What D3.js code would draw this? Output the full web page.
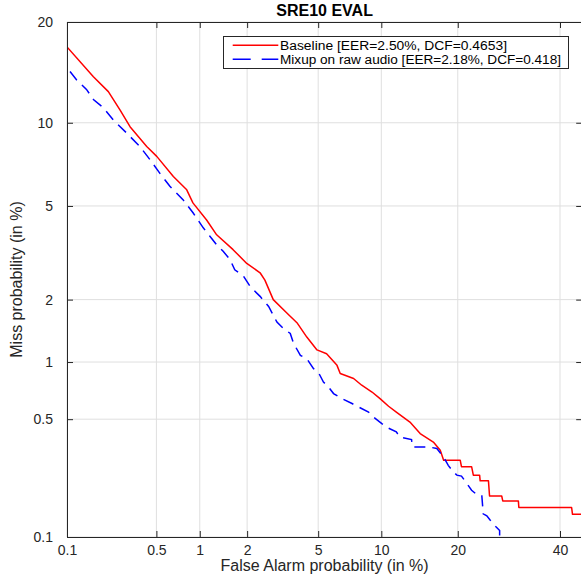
<!DOCTYPE html>
<html>
<head>
<meta charset="utf-8">
<script src="https://cdn.jsdelivr.net/npm/d3@7"></script>
<style>
  html, body { margin: 0; padding: 0; background: #fff; }
  svg { display: block; }
  text { font-family: "Liberation Sans", Arial, Helvetica, sans-serif; }
</style>
</head>
<body>
<svg id="chart" width="581" height="578"></svg>
<script>
// ---- Data (percent values) ----
const chartTitle = "SRE10 EVAL";
const xLabel = "False Alarm probability (in %)";
const yLabel = "Miss probability (in %)";
const xTicks = [0.1, 0.5, 1, 2, 5, 10, 20, 40];
const xTickLabels = ["0.1", "0.5", "1", "2", "5", "10", "20", "40"];
const yTicks = [0.1, 0.5, 1, 2, 5, 10, 20];
const yTickLabels = ["0.1", "0.5", "1", "2", "5", "10", "20"];
const seriesNames = ["Baseline [EER=2.50%, DCF=0.4653]", "Mixup on raw audio [EER=2.18%, DCF=0.418]"];

const baselineFA = [0.1, 0.165, 0.217, 0.268, 0.319, 0.425, 0.503, 0.66, 0.817, 0.90, 1.11, 1.29, 1.64, 1.99, 2.39, 2.55, 2.85, 3.41, 3.86, 4.36, 4.93, 5.52, 6.22, 6.45, 7.48, 8.16, 9.09, 9.87, 10.75, 11.6, 13.2, 14.5, 16.3, 17.3, 17.8, 20.4, 20.6, 22.3, 22.6, 23.7, 23.8, 25.3, 25.5, 27.8, 28.0, 31.1, 31.2, 42.6, 42.8, 50];
const baselineMiss = [17.1, 14.0, 12.6, 11.0, 9.7, 8.3, 7.66, 6.47, 5.77, 5.14, 4.40, 3.83, 3.32, 2.90, 2.64, 2.45, 2.00, 1.73, 1.56, 1.33, 1.15, 1.10, 0.962, 0.874, 0.824, 0.76, 0.70, 0.646, 0.588, 0.547, 0.482, 0.416, 0.373, 0.335, 0.293, 0.293, 0.269, 0.269, 0.240, 0.240, 0.222, 0.222, 0.180, 0.180, 0.168, 0.168, 0.153, 0.153, 0.139, 0.139];

const mixupFA = [0.106, 0.120, 0.145, 0.165, 0.198, 0.238, 0.301, 0.379, 0.449, 0.53, 0.624, 0.773, 0.904, 1.055, 1.17, 1.29, 1.42, 1.57, 1.68, 1.90, 2.09, 2.39, 2.68, 2.99, 3.26, 3.55, 3.70, 4.03, 4.36, 4.73, 5.0, 5.32, 5.64, 5.98, 6.56, 7.35, 7.88, 8.77, 9.23, 10.05, 10.6, 11.6, 12.0, 13.4, 13.5, 15.6, 16.8, 17.8, 18.5, 19.3, 19.85, 20.6, 21.5, 22.3, 23.5, 24.1, 24.35, 25.0, 25.6, 26.7, 27.4, 27.4];
const mixupMiss = [14.5, 13.7, 12.8, 11.9, 11.2, 10.2, 9.23, 8.29, 7.46, 6.65, 5.95, 5.28, 4.69, 4.09, 3.77, 3.48, 3.27, 3.01, 2.72, 2.55, 2.29, 2.07, 1.86, 1.57, 1.46, 1.385, 1.24, 1.08, 1.04, 0.926, 0.89, 0.79, 0.745, 0.687, 0.646, 0.608, 0.583, 0.547, 0.514, 0.473, 0.45, 0.425, 0.398, 0.385, 0.35, 0.35, 0.343, 0.306, 0.274, 0.251, 0.240, 0.237, 0.214, 0.195, 0.180, 0.180, 0.140, 0.136, 0.128, 0.116, 0.110, 0.09];

const xDomain = [0.1, 45];
const yDomain = [0.1, 20];

// ---- inverse normal CDF (probit) ----
function probit(p) {
  const a = [-3.969683028665376e+01, 2.209460984245205e+02, -2.759285104469687e+02, 1.383577518672690e+02, -3.066479806614716e+01, 2.506628277459239e+00];
  const b = [-5.447609879822406e+01, 1.615858368580409e+02, -1.556989798598866e+02, 6.680131188771972e+01, -1.328068155288572e+01];
  const c = [-7.784894002430293e-03, -3.223964580411365e-01, -2.400758277161838e+00, -2.549671627406476e+00, 4.374664141464968e+00, 2.938163982698783e+00];
  const d = [7.784695709041462e-03, 3.224671290700398e-01, 2.445134137142996e+00, 3.754408661907416e+00];
  const pl = 0.02425, ph = 1 - pl;
  let q, r;
  if (p < pl) {
    q = Math.sqrt(-2 * Math.log(p));
    return (((((c[0]*q+c[1])*q+c[2])*q+c[3])*q+c[4])*q+c[5]) / ((((d[0]*q+d[1])*q+d[2])*q+d[3])*q+1);
  }
  if (p <= ph) {
    q = p - 0.5; r = q * q;
    return (((((a[0]*r+a[1])*r+a[2])*r+a[3])*r+a[4])*r+a[5])*q / (((((b[0]*r+b[1])*r+b[2])*r+b[3])*r+b[4])*r+1);
  }
  q = Math.sqrt(-2 * Math.log(1 - p));
  return -(((((c[0]*q+c[1])*q+c[2])*q+c[3])*q+c[4])*q+c[5]) / ((((d[0]*q+d[1])*q+d[2])*q+d[3])*q+1);
}
const pr = v => probit(v / 100);

// ---- layout ----
const L = 67, R = 582.2, T = 22, B = 537;
const ink = "#262626";

const xS = d3.scaleLinear().domain(xDomain.map(pr)).range([L, R]);
const yS = d3.scaleLinear().domain(yDomain.map(pr)).range([B, T]);

const svg = d3.select("#chart");

// clip
svg.append("defs").append("clipPath").attr("id", "plotclip")
  .append("rect").attr("x", L).attr("y", T).attr("width", R - L).attr("height", B - T);

// grid
const grid = svg.append("g");
grid.selectAll("line.gx").data(xTicks).join("line")
  .attr("x1", d => xS(pr(d))).attr("x2", d => xS(pr(d)))
  .attr("y1", T).attr("y2", B)
  .attr("stroke", "#dfdfdf").attr("stroke-width", 1);
grid.selectAll("line.gy").data(yTicks).join("line")
  .attr("y1", d => yS(pr(d))).attr("y2", d => yS(pr(d)))
  .attr("x1", L).attr("x2", R)
  .attr("stroke", "#dfdfdf").attr("stroke-width", 1);

// curves
const line = d3.line()
  .x(d => xS(pr(d[0])))
  .y(d => yS(pr(d[1])));

const baseline = baselineFA.map((v, i) => [v, baselineMiss[i]]);
const mixup = mixupFA.map((v, i) => [v, mixupMiss[i]]);

const plot = svg.append("g").attr("clip-path", "url(#plotclip)");
plot.append("path").datum(baseline)
  .attr("d", line).attr("fill", "none")
  .attr("stroke", "#ff0000").attr("stroke-width", 1.5).attr("stroke-linejoin", "round");
plot.append("path").datum(mixup)
  .attr("d", line).attr("fill", "none")
  .attr("stroke", "#0000ff").attr("stroke-width", 1.5).attr("stroke-dasharray", "11,7");

// axes
const xVals = xTicks.map(pr), yVals = yTicks.map(pr);
function styleAxis(g) {
  g.selectAll(".domain").attr("stroke", ink).attr("stroke-width", 1);
  g.selectAll(".tick line").attr("stroke", ink).attr("stroke-width", 1);
  g.selectAll(".tick text").attr("fill", ink).style("font-size", "14px")
    .style("font-family", '"Liberation Sans", Arial, Helvetica, sans-serif');
}
svg.append("g").attr("transform", `translate(0,${B})`)
  .call(d3.axisBottom(xS).tickValues(xVals).tickFormat((d, i) => xTickLabels[i]).tickSizeInner(-6).tickSizeOuter(0).tickPadding(8))
  .call(styleAxis);
svg.append("g").attr("transform", `translate(0,${T})`)
  .call(d3.axisTop(xS).tickValues(xVals).tickFormat("").tickSizeInner(-6).tickSizeOuter(0))
  .call(styleAxis);
svg.append("g").attr("transform", `translate(${L},0)`)
  .call(d3.axisLeft(yS).tickValues(yVals).tickFormat((d, i) => yTickLabels[i]).tickSizeInner(-6).tickSizeOuter(0).tickPadding(14))
  .call(styleAxis);
svg.append("g").attr("transform", `translate(${R},0)`)
  .call(d3.axisRight(yS).tickValues(yVals).tickFormat("").tickSizeInner(-6).tickSizeOuter(0))
  .call(styleAxis);

// title & labels
svg.append("text").attr("x", (L + R) / 2).attr("y", 16)
  .attr("text-anchor", "middle").style("font-size", "16px").style("font-weight", "bold")
  .attr("fill", "#000").text(chartTitle);
svg.append("text").attr("x", (L + R) / 2).attr("y", 571)
  .attr("text-anchor", "middle").style("font-size", "16px").attr("fill", ink).text(xLabel);
svg.append("text").attr("transform", `translate(22,${(T + B) / 2}) rotate(-90)`)
  .attr("text-anchor", "middle").style("font-size", "16px").attr("fill", ink).text(yLabel);

// legend
const lg = svg.append("g");
lg.append("rect").attr("x", 223.5).attr("y", 36.5).attr("width", 345).attr("height", 32)
  .attr("fill", "#fff").attr("stroke", ink).attr("stroke-width", 1);
const legendColors = ["#ff0000", "#0000ff"];
const legendDash = [null, "18,11"];
seriesNames.forEach((name, i) => {
  const yy = 45.3 + i * 14;
  lg.append("line").attr("x1", 232.7).attr("x2", 278.3).attr("y1", yy).attr("y2", yy)
    .attr("stroke", legendColors[i]).attr("stroke-width", 1.5)
    .attr("stroke-dasharray", legendDash[i]);
  lg.append("text").attr("x", 280).attr("y", yy + 4.3)
    .style("font-size", "12px").attr("fill", "#000")
    .attr("textLength", i === 0 ? 227 : 281).attr("lengthAdjust", "spacingAndGlyphs")
    .text(name);
});
</script>
</body>
</html>
